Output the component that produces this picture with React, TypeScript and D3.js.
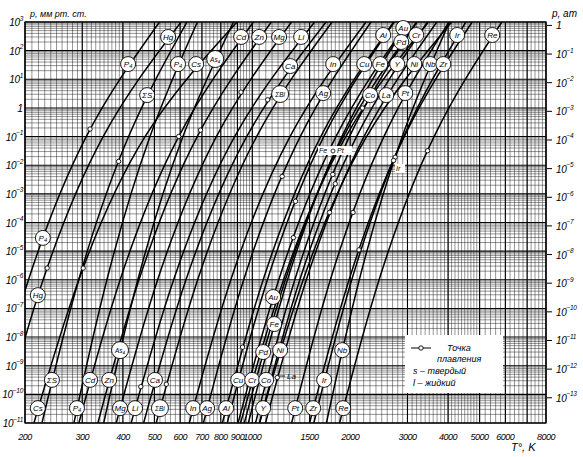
import * as d3 from "d3";

// pressure levels (mm Hg) at which each curve's temperature was read
const pLevels = [1e-11, 1e-6, 1e-1, 1e3];

const curveNames = [
  "P4 white", "Hg", "Cs", "S", "P4 red", "Cd", "Zn", "As4", "Mg", "Li",
  "Ca", "Bi", "In", "Ag", "Al", "Cu", "Cr", "Au", "Co", "Pd",
  "Ni", "Fe", "La", "Y", "Pt", "Nb", "Zr", "Ir", "Re",
];

// temperature (K) of every curve at the pLevels above
const curveT = [
  [153.4, 205.0, 308.6, 518.3],
  [168.9, 227.4, 347.8, 603.9],
  [213.1, 292.8, 467.9, 897.2],
  [225.5, 292.6, 416.5, 629.8],
  [282.8, 357.2, 484.6, 678.0],
  [292.9, 392.3, 593.8, 1008],
  [335.1, 448.3, 677.1, 1144],
  [349.1, 444.6, 611.9, 875.5],
  [381.6, 511.5, 775.4, 1320],
  [424.1, 572.9, 882.3, 1554],
  [463.2, 625.2, 961.2, 1686],
  [506.5, 679.2, 1031, 1759],
  [640.0, 859.0, 1306, 2237],
  [707.4, 940.8, 1404, 2317],
  [809.0, 1080, 1624, 2721],
  [837.4, 1113, 1659, 2732],
  [920.2, 1248, 1939, 3481],
  [904.2, 1206, 1808, 3013],
  [1023, 1351, 1989, 3196],
  [945.0, 1264, 1906, 3214],
  [1053, 1434, 2246, 4103],
  [972.2, 1283, 1885, 3020],
  [1098, 1466, 2205, 3693],
  [1052, 1400, 2092, 3459],
  [1321, 1738, 2539, 4024],
  [1690, 2133, 2891, 4039],
  [1500, 1984, 2932, 4743],
  [1546, 2022, 2921, 4534],
  [1855, 2454, 3622, 5851],
];

// melting points (K), null where none is marked
const meltT = [
  317, 234, 302, 388, null, 594, 693, null, 923, 454,
  1115, 544, 430, 1235, 933, 1358, 2180, 1337, 1768, 1828,
  1728, 1811, 1193, 1799, 2041, 2750, 2128, 2719, 3459,
];

const labelText = [
  "P₄", "Hg", "P₄", "Cs", "As₄", "ΣS", "Cd", "Zn", "Mg", "Li", "Ca", "ΣBi", "In", "Ag",
  "Al", "Au", "Pd", "Cr", "Ir", "Re", "Cu", "Fe", "Y", "Ni", "Nb", "Zr", "Co", "La", "Pt",
  "P₄", "Hg",
  "Cs", "ΣS", "P₄", "Cd", "Zn", "As₄", "Mg", "Li", "Ca", "ΣBi", "In", "Ag", "Al", "Cu",
  "Cr", "Co", "Pd", "Ni", "Fe", "Au", "Y", "Pt", "Zr", "Ir", "Re", "Nb",
];
const labelT = [
  415, 551, 591, 672, 769, 475, 924, 1050, 1209, 1413, 1308, 1218, 1773, 1652,
  2527, 2912, 2871, 3193, 4267, 5469, 2209, 2474, 2790, 3148, 3526, 3867, 2304, 2582, 2953,
  227, 219,
  219, 242, 289, 317, 363, 392, 392, 436, 502, 520, 658, 726, 831, 905,
  999, 1103, 1080, 1218, 1168, 1159, 1080, 1355, 1539, 1663, 1904, 1890,
];
const labelP = [
  34, 300, 34, 34, 51, 2.8, 300, 300, 300, 300, 29, 3.06, 34, 3.3,
  352, 617, 200, 352, 352, 352, 34, 34, 34, 34, 34, 34, 2.8, 2.8, 3.3,
  2.9e-5, 2.9e-7,
  3.3e-11, 3.2e-10, 3.3e-11, 3.2e-10, 3.2e-10, 3.5e-9, 3.3e-11, 3.3e-11, 3.2e-10, 3.3e-11,
  3.3e-11, 3.3e-11, 3.3e-11, 3.2e-10, 3.2e-10, 3.2e-10, 3e-9, 3.5e-9, 2.85e-8, 2.5e-7,
  3.3e-11, 3.3e-11, 3.3e-11, 3.2e-10, 3.3e-11, 3.5e-9,
];

const tempTicks = [200, 300, 400, 500, 600, 700, 800, 900, 1000, 1500, 2000, 3000, 4000, 5000, 6000, 8000];
const mmExp = [3, 2, 1, 0, -1, -2, -3, -4, -5, -6, -7, -8, -9, -10, -11];
const atmExp = [0, -1, -2, -3, -4, -5, -6, -7, -8, -9, -10, -11, -12, -13];

const FONT = "'Liberation Sans', 'DejaVu Sans', sans-serif";

const x = d3.scaleLog().domain([200, 8000]).range([25, 546]);
const y = d3.scaleLog().domain([1e-11, 1e3]).range([423, 22]);

const line = d3
  .line<[number, number]>()
  .x((d) => x(d[0]))
  .y((d) => y(d[1]))
  .curve(d3.curveNatural);

// pressure on a curve at temperature t (log p linear in 1/T between read points)
function pressureAt(ts: number[], t: number) {
  const inv = ts.map((v) => 1 / v);
  const lp = pLevels.map((p) => Math.log10(p));
  const it = 1 / t;
  let i = 0;
  while (i < inv.length - 2 && it < inv[i + 1]) i++;
  const f = (it - inv[i]) / (inv[i + 1] - inv[i]);
  return Math.pow(10, lp[i] + f * (lp[i + 1] - lp[i]));
}

const gridT: number[] = [
  ...d3.range(200, 400, 10),
  ...d3.range(400, 1000, 20),
  ...d3.range(1000, 2000, 50),
  ...d3.range(2000, 5000, 100),
  ...d3.range(5000, 8001, 200),
];
const majorT = [200, 300, 400, 500, 600, 700, 800, 900, 1000, 1500, 2000, 3000, 4000, 5000, 6000, 7000, 8000];
const gridP: number[] = [];
for (let k = -11; k < 3; k++) for (let m = 2; m <= 9; m++) gridP.push(m * Math.pow(10, k));

function Pow({ e, px, py, anchor }: { e: number; px: number; py: number; anchor: string }) {
  if (e === 0) {
    return (
      <text x={px} y={py} textAnchor={anchor} fontSize={10.5} fontStyle="italic" fontFamily={FONT} fill="#000">
        1
      </text>
    );
  }
  return (
    <text x={px} y={py} textAnchor={anchor} fontSize={10} fontStyle="italic" fontFamily={FONT} fill="#000" letterSpacing={-0.3}>
      10
      <tspan dy={-5.5} fontSize={6.5}>
        {e < 0 ? "−" + -e : String(e)}
      </tspan>
    </text>
  );
}

export default function App() {
  return (
    <svg
      width={583}
      height={457}
      style={{ position: "absolute", left: 0, top: 0, background: "#fff" }}
    >
      <defs>
        <clipPath id="plot">
          <rect x={25} y={22} width={521} height={401} />
        </clipPath>
      </defs>
      <rect width={583} height={457} fill="#fff" />

      {/* grid */}
      <g stroke="#000">
        {gridT.map((t, i) => (
          <line key={"gx" + i} x1={x(t)} x2={x(t)} y1={22} y2={423} strokeWidth={0.6} strokeOpacity={0.7} />
        ))}
        {gridP.map((p, i) => (
          <line key={"gy" + i} x1={25} x2={546} y1={y(p)} y2={y(p)} strokeWidth={0.6} strokeOpacity={0.7} />
        ))}
        {majorT.map((t) => (
          <line key={"mx" + t} x1={x(t)} x2={x(t)} y1={22} y2={423} strokeWidth={1.1} />
        ))}
        {mmExp.map((e) => (
          <line key={"my" + e} x1={25} x2={546} y1={y(Math.pow(10, e))} y2={y(Math.pow(10, e))} strokeWidth={1.1} />
        ))}
        <rect x={25} y={22} width={521} height={401} fill="none" strokeWidth={1.2} />
      </g>

      {/* curves */}
      <g clipPath="url(#plot)" fill="none" stroke="#000" strokeWidth={1.5}>
        {curveNames.map((n, i) => (
          <path key={n} d={line(curveT[i].map((t, j) => [t, pLevels[j]] as [number, number])) || ""} />
        ))}
      </g>

      {/* melting points */}
      <g clipPath="url(#plot)" fill="#fff" stroke="#000" strokeWidth={0.9}>
        {meltT.map((t, i) =>
          t == null ? null : (
            <circle key={"m" + i} cx={x(t)} cy={y(pressureAt(curveT[i], t))} r={2.2} />
          )
        )}
      </g>

      {/* small annotations */}
      <g fontFamily={FONT} fontStyle="italic" fontSize={7} fill="#000">
        <line x1={279} x2={285} y1={376} y2={376} stroke="#000" strokeWidth={0.8} />
        <text x={287} y={379} fontSize={8}>La</text>
        <rect x={318} y={146} width={34} height={9} fill="#fff" />
        <text x={319} y={153}>Fe</text>
        <circle cx={333} cy={151} r={2} fill="#fff" stroke="#000" strokeWidth={0.8} />
        <text x={337} y={153}>Pt</text>
        <rect x={395} y={164} width={10} height={9} fill="#fff" />
        <text x={396} y={171}>Ir</text>
      </g>

      {/* curve labels */}
      <g fontFamily={FONT} fontStyle="italic">
        {labelText.map((s, i) => {
          const cx = x(labelT[i]);
          const cy = y(labelP[i]);
          const long = s.length > 2;
          return (
            <g key={"l" + i}>
              <circle cx={cx} cy={cy} r={long ? 8.5 : 7.5} fill="#fff" stroke="#000" strokeWidth={0.9} />
              <text x={cx} y={cy + 2.8} textAnchor="middle" fontSize={long ? 6.5 : 8} fill="#000">
                {s}
              </text>
            </g>
          );
        })}
      </g>

      {/* left axis */}
      {mmExp.map((e) => (
        <Pow key={"L" + e} e={e} px={23} py={y(Math.pow(10, e)) + 4} anchor="end" />
      ))}
      <text x={30} y={17} fontSize={9} fontStyle="italic" fontFamily={FONT} fill="#000">
        p, мм рт. ст.
      </text>

      {/* right axis (atm) */}
      {atmExp.map((e) => {
        const yy = y(760 * Math.pow(10, e));
        return (
          <g key={"R" + e}>
            <line x1={547} x2={552} y1={yy} y2={yy} stroke="#000" strokeWidth={1} />
            <Pow e={e} px={556} py={yy + 4} anchor="start" />
          </g>
        );
      })}
      <text x={552} y={17} fontSize={10} fontStyle="italic" fontFamily={FONT} fill="#000">
        p, ат
      </text>

      {/* bottom axis */}
      {tempTicks.map((t) => (
        <text
          key={"b" + t}
          x={x(t)}
          y={440}
          textAnchor="middle"
          fontSize={9}
          letterSpacing={-0.5}
          fontStyle="italic"
          fontFamily={FONT}
          fill="#000"
        >
          {t}
        </text>
      ))}
      <text x={511} y={451} fontSize={11} fontStyle="italic" fontFamily={FONT} fill="#000">
        T°, K
      </text>

      {/* legend */}
      <g fontFamily={FONT} fontStyle="italic" fontSize={9} fill="#000">
        <rect x={405} y={335} width={98} height={58} fill="#fff" />
        <line x1={411} x2={431} y1={348} y2={348} stroke="#000" strokeWidth={1} />
        <circle cx={421} cy={348} r={2.2} fill="#fff" stroke="#000" strokeWidth={0.9} />
        <text x={447} y={351}>Точка</text>
        <text x={437} y={362}>плавления</text>
        <text x={413} y={374}>s – твердый</text>
        <text x={413} y={386}>l – жидкий</text>
      </g>
    </svg>
  );
}
